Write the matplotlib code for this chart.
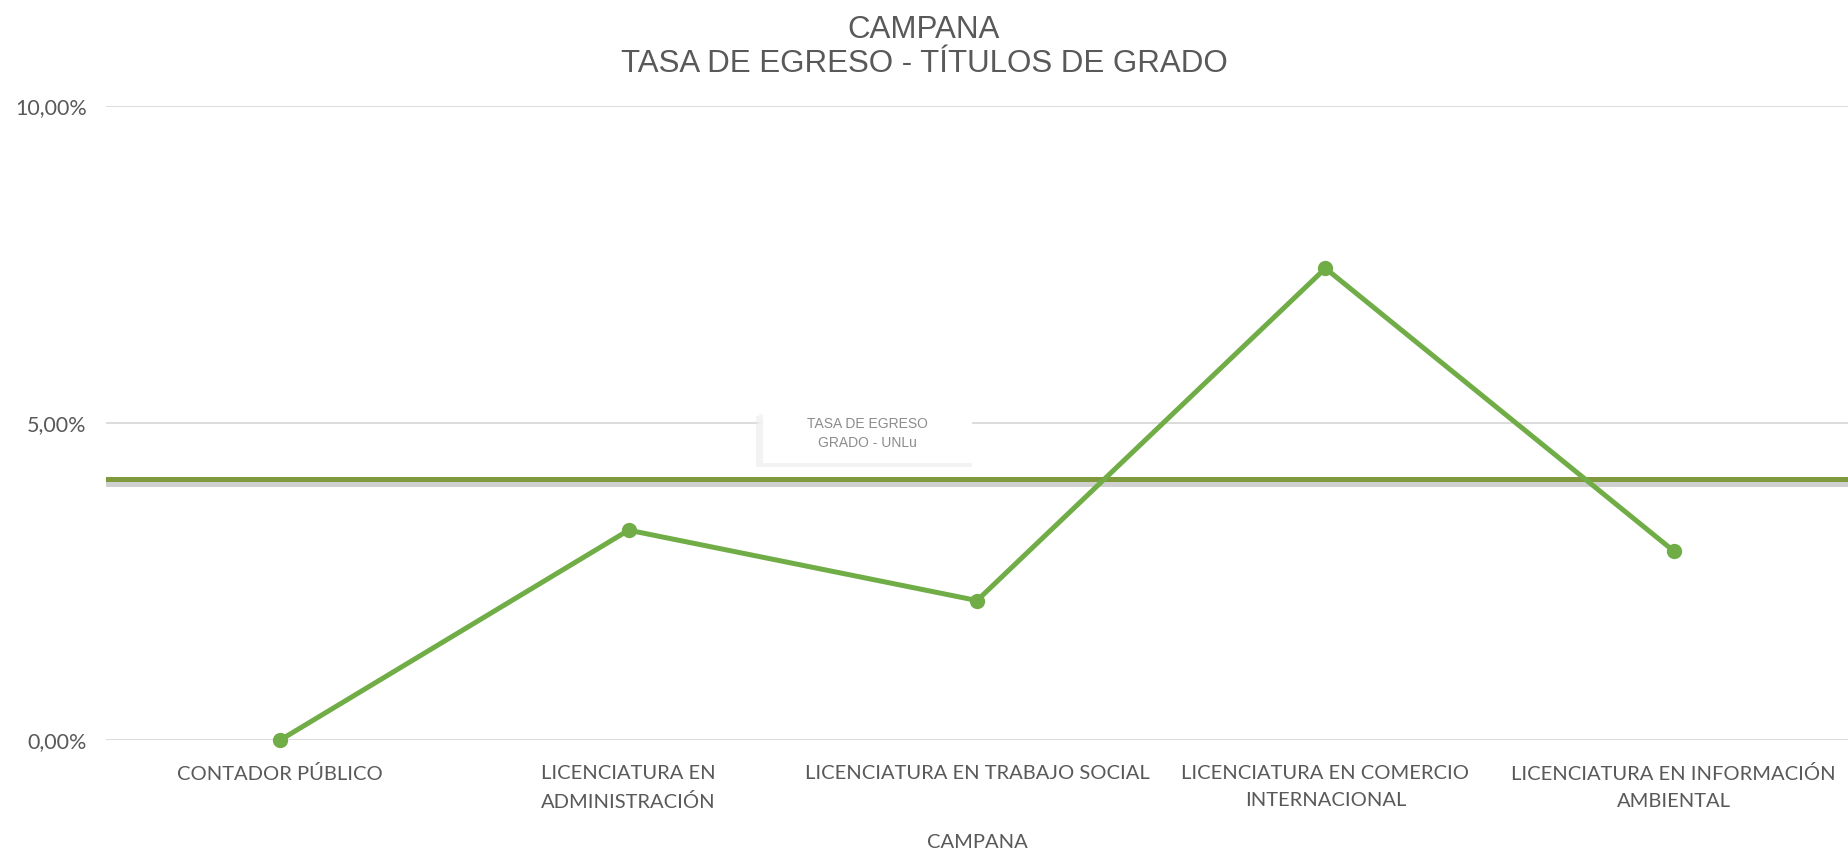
import matplotlib
matplotlib.use("Agg")
import matplotlib.pyplot as plt
from matplotlib.ticker import FuncFormatter
from matplotlib.patches import Rectangle
import matplotlib.patheffects as pe

categories = ["CONTADOR PÚBLICO", "LICENCIATURA EN\nADMINISTRACIÓN",
              "LICENCIATURA EN TRABAJO SOCIAL", "LICENCIATURA EN COMERCIO\nINTERNACIONAL",
              "LICENCIATURA EN INFORMACIÓN\nAMBIENTAL"]
values = [0.0, 3.31, 2.20, 7.44, 2.98]
reference_value = 4.12
yticks = [0, 5, 10]

fig = plt.figure(figsize=(18.48, 8.59), dpi=100)
ax = fig.add_axes([0.0574, 0.1385, 0.9426, 0.7381])

gray = "#595959"
ax.set_xlim(-0.5, len(categories) - 0.5)
ax.set_ylim(0, 10)
ax.set_yticks(yticks)
ax.yaxis.set_major_formatter(FuncFormatter(lambda v, p: f"{v:.2f}%".replace(".", ",")))
ax.grid(axis="y", color="#d9d9d9", linewidth=1.3, zorder=0)
ax.set_axisbelow(True)
for s in ax.spines.values():
    s.set_visible(False)
ax.tick_params(length=0, labelsize=14.5, labelcolor=gray, pad=18)
ax.tick_params(axis="y", pad=14, labelsize=15.5)
ax.set_xticks(range(len(categories)))
ax.set_xticklabels(categories, linespacing=1.7)
for lbl in ax.get_xticklabels() + ax.get_yticklabels():
    lbl.set_family("Lato")

# reference line with shadow
ax.axhline(reference_value, color="#7f9a3c", linewidth=3.6, zorder=3,
           path_effects=[pe.SimpleLineShadow(offset=(0, -3), shadow_color="#b0b0b0", alpha=0.6, linewidth=5),
                         pe.Normal()])

ax.plot(range(len(categories)), values, color="#70ad47", linewidth=3.6,
        marker="o", markersize=10, zorder=4, solid_capstyle="round", clip_on=False)

# label box with soft shadow
ax.add_patch(Rectangle((1.365, 4.31), 0.62, 0.80, facecolor="#ececec", edgecolor="none",
                       zorder=2.5, alpha=0.6))
ax.add_patch(Rectangle((1.375, 4.34), 0.61, 0.80, facecolor="#f4f4f4", edgecolor="none",
                       zorder=2.55, alpha=0.8))
ax.add_patch(Rectangle((1.385, 4.37), 0.60, 0.87, facecolor="white", edgecolor="none", zorder=2.6))
ax.text(1.686, 4.83, "TASA DE EGRESO\nGRADO - UNLu", ha="center", va="center",
        fontsize=10, color="#8c8c8c", family="Liberation Sans", linespacing=1.45, zorder=5)
ax.set_xlabel("CAMPANA", fontsize=14.5, color=gray, family="Lato", labelpad=17)

fig.text(0.5, 0.965, "CAMPANA", ha="center", va="center", fontsize=22.5,
         color=gray, family="Liberation Sans")
fig.text(0.5, 0.926, "TASA DE EGRESO - TÍTULOS DE GRADO", ha="center", va="center",
         fontsize=22.5, color=gray, family="Liberation Sans")

fig.savefig("out.png", dpi=100, facecolor="white")
